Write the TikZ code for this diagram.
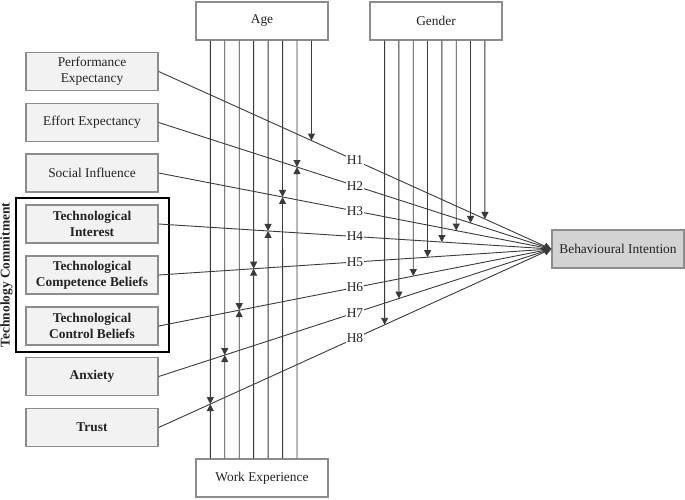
\documentclass[tikz,border=0pt]{standalone}
\usepackage{fontspec}
\setmainfont{Liberation Serif}
\usetikzlibrary{arrows.meta}
\definecolor{bordergray}{HTML}{8C8C8C}
\definecolor{linegray}{HTML}{3A3A3A}
\definecolor{boxfill}{HTML}{F2F2F2}
\definecolor{bifill}{HTML}{D3D3D3}
\definecolor{txt}{HTML}{222222}
\begin{document}
\begin{tikzpicture}[x=1pt,y=-1pt,
  every node/.style={font=\fontsize{13.4}{16.3}\selectfont, text=txt},
  factor/.style={draw=bordergray, line width=1.4pt, fill=boxfill, minimum width=132pt, minimum height=38pt, align=center, inner sep=1pt},
  bfactor/.style={factor, font=\fontsize{13.4}{16.3}\selectfont\bfseries},
  moder/.style={draw=bordergray, line width=1.4pt, fill=white, minimum width=132pt, minimum height=38pt},
  link/.style={draw=linegray, line width=0.9pt, -{Triangle[length=7pt,width=7pt]}},
  hlab/.style={fill=white, inner sep=1pt},
]
\useasboundingbox (0,0) rectangle (685,499);

\node[factor] (s1) at (92,71.5) {Performance\\Expectancy};
\node[factor] (s2) at (92,122.5) {Effort Expectancy};
\node[factor] (s3) at (92,173) {Social Influence};
\node[bfactor] (s4) at (92,224) {Technological\\Interest};
\node[bfactor] (s5) at (92,275) {Technological\\Competence Beliefs};
\node[bfactor] (s6) at (92,326) {Technological\\Control Beliefs};
\node[bfactor] (s7) at (92,376.5) {Anxiety};
\node[bfactor] (s8) at (92,427.5) {Trust};
\node[draw=black, line width=1.5pt, minimum width=153pt, minimum height=154pt] (tc) at (92.5,275) {};
\node[rotate=90, font=\fontsize{13.4}{16.3}\selectfont\bfseries, inner sep=0pt] (tcl) at (6.5,275) {Technology Commitment};

\node[moder] (age) at (262,21) {Age};
\node[moder] (gender) at (436,21) {Gender};
\node[moder] (we) at (262,478) {Work Experience};
\node[factor, fill=bifill] (bi) at (618,249) {Behavioural Intention};

\foreach \k in {1,...,8}{
  \path (age.south west) ++({15+14.45*(8-\k)},0) coordinate (a\k);
  \path (we.north west) ++({15+14.45*(8-\k)},0) coordinate (w\k);
  \path (gender.south west) ++({15.3+14.33*(8-\k)},0) coordinate (g\k);
  \path (g\k) ++(0,400) coordinate (gl\k);
}
\foreach \k in {1,...,8}{
  \coordinate (p\k) at (intersection cs: first line={(a\k)--(w\k)}, second line={(s\k.east)--(bi.west)});
  \coordinate (q\k) at (intersection cs: first line={(g\k)--(gl\k)}, second line={(s\k.east)--(bi.west)});
}

\foreach \k in {1,...,8}
  \draw[link] (s\k.east) -- node[hlab]{H\k} (bi.west);

\foreach \k in {1,...,8}{
  \draw[link] (a\k) -- (p\k);
  \draw[link] (g\k) -- (q\k);
}
\foreach \k in {2,...,8}
  \draw[link] (w\k) -- (p\k);
\end{tikzpicture}
\end{document}
